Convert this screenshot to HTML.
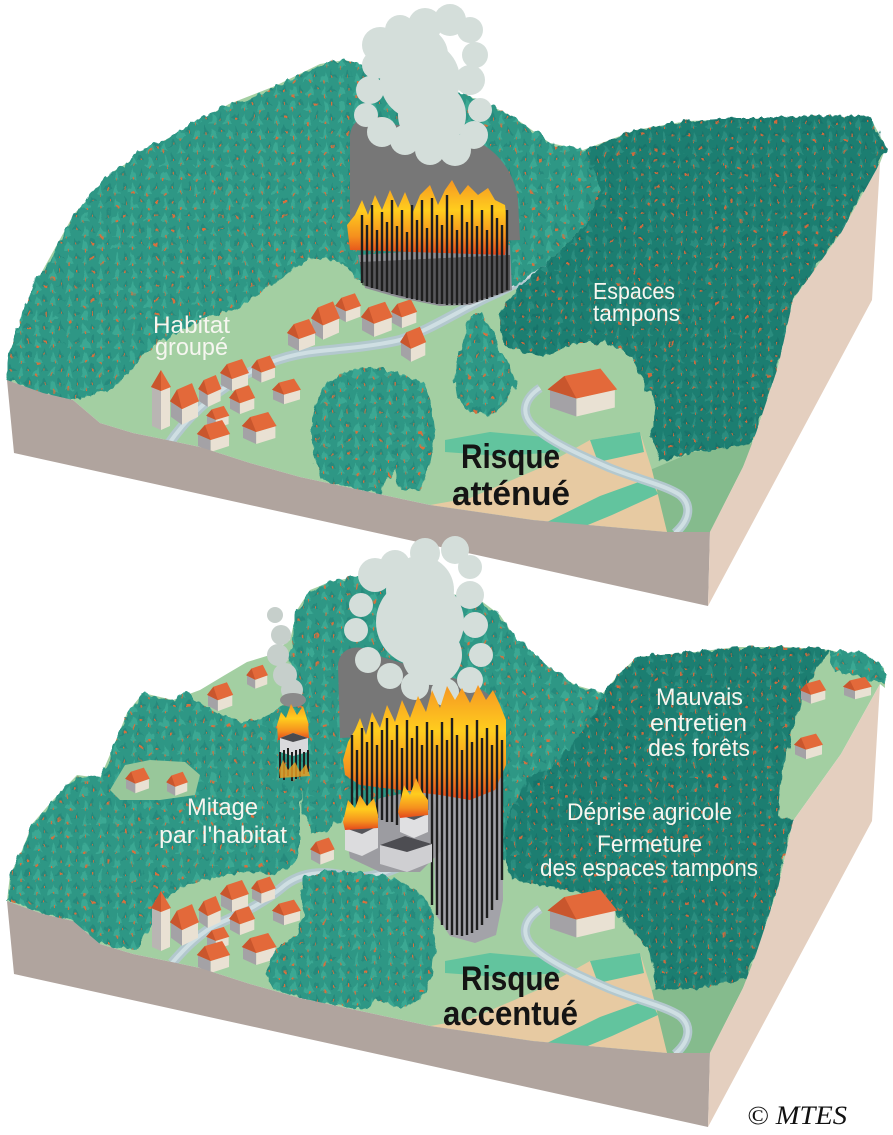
<!DOCTYPE html>
<html><head><meta charset="utf-8"><style>
html,body{margin:0;padding:0;background:#fff;}
svg{display:block;}
.lbl{font-family:"Liberation Sans",sans-serif;fill:#f6f6f0;}
.big{font-family:"Liberation Sans",sans-serif;font-weight:bold;fill:#141414;}
</style></head><body>
<svg width="893" height="1135" viewBox="0 0 893 1135" xmlns="http://www.w3.org/2000/svg">
<defs>
<filter id="jag" x="-3%" y="-3%" width="106%" height="106%">
<feTurbulence type="fractalNoise" baseFrequency="0.14 0.07" numOctaves="2" seed="3" result="n"/>
<feDisplacementMap in="SourceGraphic" in2="n" scale="9" xChannelSelector="R" yChannelSelector="G"/>
</filter>
<pattern id="pL" width="16" height="14" patternUnits="userSpaceOnUse">
<rect width="16" height="14" fill="#2d9785"/>
<path d="M1 12 L5 2 L9 12Z" fill="#3ba893"/>
<path d="M9 7 L12.5 0 L16 7Z" fill="#25897b"/>
<rect x="4.4" y="10.5" width="1.3" height="3" fill="#d8703e"/>
<rect x="12" y="4.5" width="1.3" height="2.6" fill="#d8703e"/>
</pattern>
<pattern id="pD" width="15" height="13" patternUnits="userSpaceOnUse">
<rect width="15" height="13" fill="#1f7e71"/>
<path d="M1 11 L4.5 2 L8 11Z" fill="#2a8d7f"/>
<path d="M8 6 L11.5 0 L15 6Z" fill="#19736a"/>
<rect x="4" y="9.5" width="1.3" height="3" fill="#cf6a3c"/>
<rect x="11" y="4" width="1.3" height="2.5" fill="#cf6a3c"/>
</pattern>
<linearGradient id="fire" x1="0" y1="0" x2="0" y2="1">
<stop offset="0" stop-color="#f59623"/>
<stop offset="0.4" stop-color="#ffcd1e"/>
<stop offset="0.75" stop-color="#f5901e"/>
<stop offset="1" stop-color="#e2461c"/>
</linearGradient>
<g id="hs">
<polygon points="0,11 11,17 11,29 0,23" fill="#a4a2a6"/>
<polygon points="11,17 27,11 27,23 11,29" fill="#e9e1d3"/>
<polygon points="-1,11 6,2 21,-3 28,11 11,17" fill="#e3693a"/>
<polygon points="-1,11 6,2 11,17" fill="#c9562d"/>
</g>
<g id="tw">
<polygon points="0,14 9,18 9,58 0,54" fill="#b9b5b3"/>
<polygon points="9,18 18,14 18,54 9,58" fill="#e9e1d3"/>
<polygon points="-1,15 9,-2 19,15 9,19" fill="#e3693a"/>
<polygon points="-1,15 9,-2 9,19" fill="#c9562d"/>
</g>
<g id="faces">
<polygon points="7,380 43,393 73,400 100,423 133,433 167,440 200,447 250,463 300,477 430,505 533,520 667,532 710,532 708,606 14,453" fill="#b0a49e"/>
<polygon points="710,532 743,467 756,433 778,367 793,300 841,233 880,163 872,300 708,606" fill="#e4cfbf"/>
</g>
<g id="base">
<polygon points="7,380 34,286 74,214 114,171 172,136 229,104 275,86 320,64 345,60 480,100 515,118 550,143 583,150 636,130 687,121 773,118 870,117 886,147 880,163 841,233 793,300 778,367 756,433 743,467 710,532 667,532 533,520 430,505 300,477 250,463 200,447 167,440 133,433 100,423 73,400 43,393" fill="#a3cfa2"/>
<polygon points="650,470 693,452 720,448 753,443 743,467 710,532 667,532" fill="#85bb8d"/>
<path d="M430,505 L470,498 L540,468 L590,440 L640,432 L652,470 L667,532 L533,520 Z" fill="#e7caa2"/>
<path d="M445,440 L490,432 L555,438 L560,452 L500,456 L445,452 Z" fill="#62c49e"/>
<path d="M545,523 L600,496 L650,478 L658,494 L612,515 L578,529 Z" fill="#62c49e"/>
<path d="M590,440 L640,432 L644,452 L598,462 Z" fill="#62c49e"/>
<path d="M540,388 C525,398 520,412 532,425 C550,442 580,455 610,468 C640,480 665,485 680,495 C692,505 690,520 675,533" fill="none" stroke="#b3c8ce" stroke-width="9"/>
<path d="M540,388 C525,398 520,412 532,425 C550,442 580,455 610,468 C640,480 665,485 680,495 C692,505 690,520 675,533" fill="none" stroke="#cfdfe3" stroke-width="4"/>
</g>
<g id="village">
<use href="#tw" transform="translate(152,372)"/>
<use href="#hs" transform="translate(252,358) scale(.85)"/>
<use href="#hs" transform="translate(221,362)"/>
<use href="#hs" transform="translate(199,378) scale(.8,1)"/>
<use href="#hs" transform="translate(273,381) scale(1,.8)"/>
<use href="#hs" transform="translate(171,387) scale(1,1.3)"/>
<use href="#hs" transform="translate(230,388) scale(.9)"/>
<use href="#hs" transform="translate(207,408) scale(.8,.7)"/>
<use href="#hs" transform="translate(243,415) scale(1.2,1)"/>
<use href="#hs" transform="translate(198,423) scale(1.15,1)"/>
</g>
</defs>

<rect width="893" height="1135" fill="#fff"/>

<!-- ============ TOP BLOCK ============ -->
<use href="#base"/>
<path d="M168,445 C185,420 210,395 240,378 C265,362 290,354 320,351 C350,348 380,345 400,340 C430,330 460,310 490,296 C515,285 530,275 548,262" fill="none" stroke="#b3c8ce" stroke-width="10"/>
<path d="M168,445 C185,420 210,395 240,378 C265,362 290,354 320,351 C350,348 380,345 400,340 C430,330 460,310 490,296 C515,285 530,275 548,262" fill="none" stroke="#cfdfe3" stroke-width="4"/>
<g filter="url(#jag)">
<path d="M7,380 L10,350 L20,320 L34,286 L55,250 L74,214 L95,190 L114,171 L140,150 L172,136 L200,118 L229,104 L250,100 L275,86 L300,75 L320,64 L345,60 L480,100 L515,118 L550,143 L590,152 L600,190 L585,225 L560,250 L540,268 L515,285 L470,300 L360,280 L340,262 L309,257 L286,275 L240,307 L205,318 L178,333 L152,345 L140,357 L133,367 L112,390 L73,400 L43,393 Z" fill="url(#pL)"/>
<path d="M585,150 L610,140 L636,130 L687,121 L736,118 L773,118 L830,115 L870,117 L886,147 L880,163 L841,233 L793,300 L778,367 L760,425 L753,443 L720,448 L693,452 L660,462 L652,440 L653,400 L641,375 L630,357 L607,343 L572,343 L544,357 L504,345 L498,314 L515,290 L540,268 L560,250 L585,225 L600,190 Z" fill="url(#pD)"/>
<path d="M470,318 L480,312 L492,330 L500,350 L510,365 L515,385 L505,405 L490,415 L470,412 L458,400 L455,375 L460,350 Z" fill="url(#pL)"/>
<path d="M330,380 L350,370 L375,368 L395,372 L420,380 L432,400 L435,430 L430,460 L420,490 L400,492 L395,470 L385,480 L380,495 L360,490 L340,485 L320,480 L312,450 L312,420 L318,395 Z" fill="url(#pL)"/>
</g>
<use href="#hs" transform="translate(336,296) scale(.9)"/>
<use href="#hs" transform="translate(392,302) scale(.9)"/>
<use href="#hs" transform="translate(362,305) scale(1.1)"/>
<use href="#hs" transform="translate(312,305) scale(1,1.2)"/>
<use href="#hs" transform="translate(288,322)"/>
<use href="#hs" transform="translate(401,330) scale(.9,1.1)"/>
<use href="#village"/>
<use href="#hs" transform="translate(550,373) scale(2.4,1.5)"/>
<path d="M350,140 C348,118 372,108 392,124 L470,138 C500,150 515,175 518,200 L520,240 L350,245 Z" fill="#777"/>
<g fill="#d4deda">
<circle cx="380" cy="45" r="18"/><circle cx="400" cy="30" r="15"/><circle cx="425" cy="25" r="17"/><circle cx="450" cy="20" r="16"/><circle cx="470" cy="30" r="13"/><circle cx="475" cy="55" r="13"/><circle cx="470" cy="80" r="15"/><circle cx="480" cy="110" r="12"/><circle cx="474" cy="135" r="14"/><circle cx="455" cy="150" r="16"/><circle cx="430" cy="150" r="15"/><circle cx="405" cy="140" r="15"/><circle cx="382" cy="132" r="15"/><circle cx="366" cy="115" r="12"/><circle cx="370" cy="90" r="14"/><circle cx="376" cy="65" r="14"/><circle cx="420" cy="80" r="40"/><circle cx="432" cy="115" r="34"/><circle cx="420" cy="55" r="28"/>
</g>
<path d="M358,255 L510,245 L512,290 L470,305 L440,306 L400,298 L365,288 Z" fill="#8e8e94"/>
<path d="M347,225 L355,215 L362,200 L368,215 L375,195 L382,210 L390,190 L398,208 L405,192 L413,212 L420,195 L430,185 L438,205 L445,190 L452,180 L460,195 L468,185 L478,195 L488,188 L495,200 L505,205 L508,230 L505,255 L350,250 Z" fill="url(#fire)"/>
<path d="M360,262 L510,255 L510,290 L470,303 L440,304 L400,296 L362,285 Z" fill="#2a2a2a" opacity=".55"/>
<path d="M362,215V283M367,225V286M372,205V288M377,230V289M382,212V291M387,222V292M392,200V294M397,226V295M402,210V296M407,232V298M412,205V299M417,220V300M422,200V301M427,228V302M432,198V303M437,215V304M442,225V304M447,195V305M452,215V305M457,230V305M462,205V305M467,222V304M472,200V303M477,226V302M482,210V300M487,230V299M492,205V297M497,218V295M502,225V293M507,210V290" stroke="#1e1e1e" stroke-width="2.4" fill="none"/>
<use href="#faces"/>
<text class="lbl" x="153" y="333" font-size="24" textLength="77" lengthAdjust="spacingAndGlyphs">Habitat</text>
<text class="lbl" x="155" y="355" font-size="24" textLength="73" lengthAdjust="spacingAndGlyphs">groupé</text>
<text class="lbl" x="593" y="299" font-size="23" textLength="82" lengthAdjust="spacingAndGlyphs">Espaces</text>
<text class="lbl" x="593" y="321" font-size="23" textLength="87" lengthAdjust="spacingAndGlyphs">tampons</text>
<text class="big" x="461" y="468" font-size="34" textLength="99" lengthAdjust="spacingAndGlyphs">Risque</text>
<text class="big" x="452" y="505" font-size="34" textLength="118" lengthAdjust="spacingAndGlyphs">atténué</text>

<!-- ============ BOTTOM BLOCK ============ -->
<polygon points="7,901 10,875 20,855 33,823 53,800 77,775 100,778 112,750 127,713 143,693 173,700 200,690 225,675 247,662 270,655 290,640 297,610 310,590 330,582 365,575 480,600 500,615 520,645 550,668 575,685 603,693 620,673 637,657 687,653 737,647 787,647 830,650 860,658 884,668 885,688 880,684 841,754 793,821 778,888 756,954 743,988 710,1053 667,1053 533,1041 430,1026 300,998 250,984 200,968 167,961 133,954 100,944 73,921 43,914" fill="#a3cfa2"/>
<polygon points="650,991 693,973 720,969 753,964 743,988 710,1053 667,1053" fill="#85bb8d"/>
<path d="M430,1026 L470,1019 L540,989 L590,961 L640,953 L652,991 L667,1053 L533,1041 Z" fill="#e7caa2"/>
<path d="M445,961 L490,953 L555,959 L560,973 L500,977 L445,973 Z" fill="#62c49e"/>
<path d="M545,1044 L600,1017 L650,999 L658,1015 L612,1036 L578,1050 Z" fill="#62c49e"/>
<path d="M590,961 L640,953 L644,973 L598,983 Z" fill="#62c49e"/>
<path d="M540,909 C525,919 520,933 532,946 C550,963 580,976 610,989 C640,1001 665,1006 680,1016 C692,1026 690,1041 675,1054" fill="none" stroke="#b3c8ce" stroke-width="9"/>
<path d="M540,909 C525,919 520,933 532,946 C550,963 580,976 610,989 C640,1001 665,1006 680,1016 C692,1026 690,1041 675,1054" fill="none" stroke="#cfdfe3" stroke-width="4"/>
<path d="M172,963 C185,948 200,932 222,922 C245,912 265,902 285,885 C300,874 320,870 345,876 C370,882 400,868 432,850" fill="none" stroke="#b3c8ce" stroke-width="10"/>
<path d="M172,963 C185,948 200,932 222,922 C245,912 265,902 285,885 C300,874 320,870 345,876 C370,882 400,868 432,850" fill="none" stroke="#cfdfe3" stroke-width="4"/>
<g filter="url(#jag)">
<path d="M7,901 L10,875 L20,855 L33,823 L53,800 L77,775 L100,778 L112,750 L127,713 L143,693 L160,698 L173,700 L187,693 L200,703 L215,712 L240,722 L262,718 L285,705 L300,700 L305,730 L302,770 L300,810 L300,845 L292,865 L270,875 L250,872 L225,876 L200,880 L175,890 L160,905 L150,930 L135,950 L100,944 L73,921 L43,914 Z" fill="url(#pL)"/>
<path d="M290,655 L297,610 L310,590 L330,582 L350,578 L365,575 L480,600 L500,615 L520,640 L550,668 L575,685 L603,693 L605,720 L590,750 L565,775 L545,800 L520,830 L505,860 L470,860 L430,850 L380,835 L345,815 L330,830 L312,832 L302,810 L300,760 L302,720 Z" fill="url(#pL)"/>
<path d="M603,693 L620,673 L637,657 L687,653 L737,647 L787,647 L830,650 L815,672 L800,705 L790,740 L782,775 L778,815 L793,821 L778,888 L765,930 L756,954 L743,980 L700,988 L656,990 L650,953 L623,920 L603,900 L580,892 L553,887 L510,880 L503,837 L513,807 L530,777 L553,767 L575,740 L595,715 Z" fill="url(#pD)"/>
<path d="M830,650 L860,652 L884,665 L885,684 L872,680 L855,674 L835,672 Z" fill="url(#pL)"/>
</g>
<path d="M110,790 L125,765 L150,760 L185,762 L200,775 L195,795 L160,800 L120,800 Z" fill="#98c79a"/>
<use href="#hs" transform="translate(247,667) scale(.75)"/>
<use href="#hs" transform="translate(208,685) scale(.9)"/>
<use href="#hs" transform="translate(126,770) scale(.85,.8)"/>
<use href="#hs" transform="translate(167,774) scale(.75,.75)"/>
<use href="#hs" transform="translate(311,840) scale(.85,.85)"/>
<use href="#hs" transform="translate(801,682) scale(.9,.75)"/>
<use href="#hs" transform="translate(844,679) scale(1,.7)"/>
<use href="#hs" transform="translate(795,736) scale(1,.8)"/>
<use href="#village" transform="translate(0,521)"/>
<use href="#hs" transform="translate(550,894) scale(2.4,1.5)"/>
<g filter="url(#jag)">
<path d="M300,878 L330,870 L360,873 L390,878 L415,888 L430,908 L435,940 L432,975 L420,1000 L400,1008 L380,1000 L360,1010 L330,1005 L300,998 L275,990 L265,975 L275,950 L295,935 L305,915 L302,895 Z" fill="url(#pL)"/>
</g>
<g fill="#c6cfcb">
<circle cx="275" cy="615" r="8"/><circle cx="281" cy="635" r="10"/><circle cx="278" cy="655" r="11"/><circle cx="285" cy="675" r="12"/><circle cx="292" cy="690" r="11"/>
</g>
<ellipse cx="293" cy="700" rx="13" ry="7" fill="#8a8a8a"/>
<path d="M277,725 L281,712 L286,718 L291,704 L297,715 L303,706 L308,722 L309,738 L278,740 Z" fill="url(#fire)"/>
<polygon points="280,738 293,733 308,738 308,752 293,756 280,752" fill="#d9d9dc"/>
<polygon points="280,738 293,733 308,738 293,742" fill="#4a4a4e"/>
<path d="M280,752V778M284,750V780M288,748V776M292,752V781M296,750V779M300,749V777M304,752V774M308,750V772" stroke="#1e1e1e" stroke-width="2" fill="none"/>
<path d="M279,770 L283,760 L288,770 L295,762 L300,772 L306,764 L310,776 L280,778 Z" fill="#f0a020" opacity=".8"/>
<path d="M338,665 C340,645 362,642 382,657 L460,680 C490,690 505,705 505,730 L340,738 Z" fill="#777"/>
<g fill="#d4deda">
<circle cx="375" cy="575" r="17"/><circle cx="395" cy="565" r="15"/><circle cx="425" cy="553" r="15"/><circle cx="455" cy="550" r="14"/><circle cx="470" cy="567" r="12"/><circle cx="470" cy="595" r="14"/><circle cx="475" cy="625" r="13"/><circle cx="481" cy="655" r="12"/><circle cx="470" cy="680" r="13"/><circle cx="445" cy="692" r="14"/><circle cx="415" cy="686" r="14"/><circle cx="390" cy="676" r="13"/><circle cx="368" cy="660" r="13"/><circle cx="356" cy="630" r="12"/><circle cx="361" cy="605" r="12"/><circle cx="420" cy="622" r="44"/><circle cx="420" cy="590" r="34"/><circle cx="432" cy="655" r="30"/>
</g>
<path d="M432,780 L502,770 L503,900 L496,935 L475,943 L450,936 L436,915 Z" fill="#a3a3a9"/>
<path d="M345,830 L380,798 L432,788 L442,850 L420,872 L380,872 L350,858 Z" fill="#9c9ca1"/>
<path d="M343,760 L348,742 L355,730 L360,718 L366,735 L372,712 L380,728 L387,705 L395,722 L402,700 L410,718 L418,696 L426,712 L432,690 L440,708 L447,686 L455,700 L462,688 L470,703 L478,685 L486,700 L493,690 L500,705 L506,720 L506,765 L495,790 L470,800 L440,795 L400,790 L360,785 L345,775 Z" fill="url(#fire)"/>
<path d="M352,735V805M357,750V808M362,728V812M367,742V815M372,722V815M377,745V818M382,730V820M387,718V822M392,740V822M397,725V825M402,748V825M407,720V790M412,738V790M417,726V800M422,745V805M427,722V810M432,730V905M437,745V915M442,722V925M447,740V930M452,718V935M457,735V935M462,750V936M467,725V935M472,742V933M477,720V930M482,738V925M487,728V918M492,745V910M497,725V900M502,740V880" stroke="#1e1e1e" stroke-width="2.4" fill="none"/>
<polygon points="345,828 360,820 378,826 378,848 362,856 345,850" fill="#dcdcde"/>
<polygon points="345,828 360,820 378,826 362,834" fill="#55555a"/>
<polygon points="380,845 405,836 432,844 432,862 407,872 380,864" fill="#cfcfd2"/>
<polygon points="380,845 405,836 432,844 407,852" fill="#4d4d52"/>
<polygon points="400,815 414,808 428,814 428,832 414,838 400,832" fill="#e0e0e2"/>
<polygon points="400,815 414,808 428,814 414,820" fill="#55555a"/>
<path d="M343,822 L348,800 L355,808 L360,795 L367,806 L374,798 L378,815 L378,828 L345,830 Z" fill="url(#fire)"/>
<path d="M398,812 L404,785 L410,795 L416,778 L422,792 L428,800 L428,815 L400,818 Z" fill="url(#fire)"/>
<use href="#faces" transform="translate(0,521)"/>
<text class="lbl" x="187" y="815" font-size="24" textLength="71" lengthAdjust="spacingAndGlyphs">Mitage</text>
<text class="lbl" x="159" y="843" font-size="24" textLength="128" lengthAdjust="spacingAndGlyphs">par l'habitat</text>
<text class="lbl" x="656" y="705" font-size="24" textLength="87" lengthAdjust="spacingAndGlyphs">Mauvais</text>
<text class="lbl" x="650" y="731" font-size="24" textLength="97" lengthAdjust="spacingAndGlyphs">entretien</text>
<text class="lbl" x="648" y="756" font-size="24" textLength="102" lengthAdjust="spacingAndGlyphs">des forêts</text>
<text class="lbl" x="567" y="820" font-size="24" textLength="165" lengthAdjust="spacingAndGlyphs">Déprise agricole</text>
<text class="lbl" x="597" y="852" font-size="24" textLength="105" lengthAdjust="spacingAndGlyphs">Fermeture</text>
<text class="lbl" x="540" y="876" font-size="24" textLength="218" lengthAdjust="spacingAndGlyphs">des espaces tampons</text>
<text class="big" x="461" y="990" font-size="34" textLength="99" lengthAdjust="spacingAndGlyphs">Risque</text>
<text class="big" x="443" y="1025" font-size="34" textLength="135" lengthAdjust="spacingAndGlyphs">accentué</text>
<text x="747" y="1124" font-family="'Liberation Serif',serif" font-style="italic" font-size="26" fill="#111" textLength="100" lengthAdjust="spacingAndGlyphs">© MTES</text>
</svg>
</body></html>
